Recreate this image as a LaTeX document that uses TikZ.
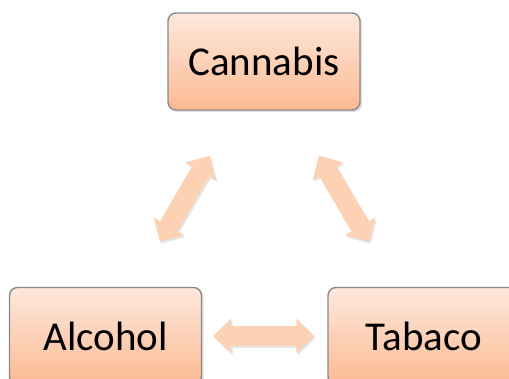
\documentclass[tikz,border=0pt]{standalone}
\usepackage{fontspec}
\setmainfont{Carlito}
\usetikzlibrary{arrows.meta,shadows}
\definecolor{boxtop}{HTML}{FEE8DC}
\definecolor{boxbot}{HTML}{FBBA93}
\definecolor{boxline}{HTML}{8A8A8A}
\definecolor{arrowfill}{HTML}{FDD2B4}
\tikzset{
  box/.style={rectangle, rounded corners=8pt, draw=boxline, line width=1.4pt,
    top color=boxtop, bottom color=boxbot, minimum width=192pt, minimum height=97pt,
    font=\fontsize{41}{48}\selectfont, text=black,
    drop shadow={opacity=0.25, shadow xshift=2pt, shadow yshift=-2pt}},
  barrow/.style={line width=20pt, draw=arrowfill,
    {Triangle[width=34pt,length=18pt]}-{Triangle[width=34pt,length=18pt]},
    preaction={draw=black!10, line width=20pt, transform canvas={shift={(1.5pt,-2pt)}}}}
}
\begin{document}
\begin{tikzpicture}[x=1pt,y=-1pt]
\useasboundingbox (0,0) rectangle (509,378);
\clip (0,0) rectangle (509,378);
\node[box] (ca) at (264,61.5) {Cannabis};
\node[box] (al) at (105.5,336) {Alcohol};
\node[box] (ta) at (424,336) {Tabaco};
\draw[barrow, shorten <=52pt, shorten >=52pt] (al) -- (ca);
\draw[barrow, shorten <=52pt, shorten >=52pt] (ca) -- (ta);
\draw[barrow, shorten <=11pt, shorten >=13pt] (al) -- (ta);
\end{tikzpicture}
\end{document}
